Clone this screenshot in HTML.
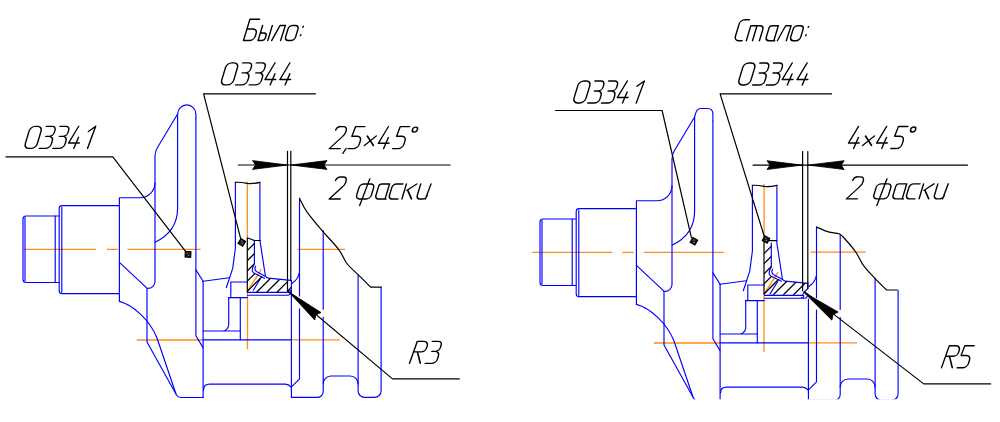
<!DOCTYPE html>
<html><head><meta charset="utf-8"><style>
html,body{margin:0;padding:0;background:#fff;}
body{width:1000px;height:422px;overflow:hidden;}
svg{display:block;}
</style></head><body><svg width="1000" height="422" viewBox="0 0 1000 422"><rect width="1000" height="422" fill="#fff"/><defs><clipPath id="cr"><rect x="0" y="0" width="1000" height="399.2"/></clipPath><clipPath id="hl"><path d="M247.3,237.8 L254.4,240.4 V265 L251.5,272 L265,278 L287.5,280.4 V292.3 H247.3 Z"/></clipPath><clipPath id="hr"><path d="M764,243.1 H771.3 V268 L768.5,275 L782,280.5 L807.8,283.4 V289.1 L802.4,294.7 H764 Z"/></clipPath></defs><g fill="none" stroke="#ff8c1a" stroke-width="1.3"><path d="M23.7,249.4 H96 M107,249.4 H117.8 M127.5,249.4 H200.6 M297.3,249.4 H345"/><path d="M247.3,181.5 V237.8 M261.3,269.4 L247.5,291.2 V349.3"/><path d="M136.7,340 H203.1 M291.3,339.9 H339.8"/><path d="M532.3,252.3 H612.3 M622.3,252.3 H633.6 M644.1,252.3 H723.7 M810.7,252.2 H865.9"/><path d="M764.1,183.7 V240 M778.2,272.2 L764,294.1 V352.3"/><path d="M653.7,343 H720.1 M808.3,342.8 H856.9"/></g><g id="L" fill="none" stroke="#0000ff" stroke-width="1.15" stroke-linejoin="round" stroke-linecap="round"><path d="M59.2,216 H26 Q23,216 23,219 V279.5 Q23,282.5 26,282.5 H59.2"/><path d="M25,217.5 V281"/><path d="M55.2,216 V282.5"/><path d="M119.4,205.6 H62 Q59.2,205.6 59.2,208.5 V290.7 Q59.2,293.6 62,293.6 H119.4"/><path d="M61.8,207 V292.2"/><path d="M119.4,301.4 V197.7 H140 A15,15 0 0 0 155,182.7"/><path d="M119.4,262.4 L147.2,288.4"/><path d="M177.6,114 L157.6,147.3 Q155,151.5 155,156 V281.5 A7,7 0 0 1 148,288.4"/><path d="M147,288.4 V342 L176.5,395 Q178,397.5 181,397.5 H203.4"/><path d="M119.4,301.4 C133,305 150,320 157,338 L176,394"/><path d="M177.6,118 V207.9 C177.6,226 168,236 155,242.2"/><path d="M195.9,118 V335.8 L203.1,347.6"/><path d="M195.9,269.9 L203.1,281.3 L229.1,277.7"/><path d="M203.1,281.3 V397.5"/><path d="M235.4,182.3 V248 L232.7,268.4 L226.3,287.7"/><path d="M259.9,182.3 V240.4 L265.4,276 Q266.3,277.9 268.5,278.1 L290.8,280.4"/><path d="M230.8,297.6 V282 H247.3"/><path d="M228.4,297.6 H247.3"/><path d="M228.7,297.6 V325 A6.5,6.5 0 0 1 222,331 M203.1,331 H240.3"/><path d="M240.3,297.6 V339.8"/><path d="M203.1,339.8 H291.3"/><path d="M247.5,292.3 H286.5"/><path d="M247.5,295.2 H288.3 Q290,295 290.3,293.2"/><path d="M203.6,390 Q203.6,384.1 209.5,384.1 H285.3 Q288.5,384.1 291.3,387.2"/><path d="M291.4,296 V397.4 H317 A6,6 0 0 0 323.2,391.4 V231.5"/><path d="M299.5,224 V378.9 L291.3,387.2"/><path d="M299.3,272.8 Q298,279.5 291.8,283.4"/><path d="M323.2,384 A8,8 0 0 1 331,376 H350.3 A8,8 0 0 1 358.1,384"/><path d="M358.1,275.3 V391 A6.5,6.5 0 0 0 364.6,397.4 H374.6 A6.5,6.5 0 0 0 381.1,391 V287.2"/></g><g clip-path="url(#cr)"><use href="#L" transform="translate(517,3)"/></g><g fill="none" stroke="#0000ff" stroke-width="1.15" stroke-linejoin="round" stroke-linecap="round"><path d="M177.6,118 V114 A9.15,9.15 0 0 1 195.9,114 V118"/><path d="M299.5,198.3 V224 M323.2,230.5 V231.5"/><path d="M254.4,240.4 V264 Q250.5,270.5 253.5,272.8 L264.5,278.2 M255.6,266.3 Q254,270 256.5,271.5 L265.6,276.4"/><path d="M253.3,290.2 L260.2,279"/><path d="M291.4,280.4 V296 M289.3,289.8 a1.4,1.4 0 1 0 0.01,0"/><path d="M694.6,121 V117 L695.7,113.2 Q697.2,108.5 701,108.5 H707.5 Q712.9,108.5 712.9,114 V121"/><path d="M771.3,243.1 V267 Q767.4,273.5 770.4,275.8 L781.4,281.2 M772.5,269.3 Q770.9,273 773.4,274.5 L782.5,279.4"/><path d="M769.9,294.1 L777.6,281.7"/><path d="M807.8,282.4 V288.3 L803.2,293.3"/><path d="M801.5,297.6 A1.5,1.5 0 0 0 802.8,294.7"/></g><g fill="none" stroke="#000" stroke-width="1.2" stroke-linejoin="round" stroke-linecap="round"><path d="M6,156.9 H112.8 L185.2,250.8"/><path d="M315.5,93.8 H203.6 L240.6,238.4"/><path d="M238.3,165 H450.2"/><path d="M287.5,151.3 V292 M290.8,151.3 V280.4 M291,287.4 L287.7,291.4"/><path d="M459.3,378.9 H392.5 L288.3,291.3"/><path d="M299.5,198.3 C300.68,200.47 303.05,206.17 306.6,211.3 C310.15,216.43 315.47,222.77 320.8,229.1 C326.13,235.43 334.25,243.57 338.6,249.3 C342.95,255.03 343.53,259.17 346.9,263.5 C350.27,267.83 354.85,271.35 358.8,275.3 C362.75,279.25 368.63,285.22 370.6,287.2 L381.3,287.2"/><path d="M235.4,182.3 Q241,182 247,183.4 Q253,184 259.9,182.3"/><path d="M247.3,292.2 V237.8 L254.4,240.5 H260.3"/><path d="M555.5,110.5 H662.1 L691.4,237.6"/><path d="M831.5,93.9 H720.1 L764.4,236.8"/><path d="M753,165.1 H967.5"/><path d="M802.6,151.6 V290.7 M807.8,151.6 V289"/><path d="M990.6,383.9 H923.7 L804.2,291.4"/><path d="M816.6,227.1 C818.57,227.90 824.65,230.78 828.4,231.9 C832.15,233.02 836.33,232.62 839.1,233.8 C841.87,234.98 842.23,235.97 845,239 C847.77,242.03 852.53,247.47 855.7,252 C858.87,256.53 860.83,261.85 864,266.2 C867.17,270.55 870.95,274.13 874.7,278.1 C878.45,282.07 884.53,288.02 886.5,290 L897.2,290"/><path d="M752.4,185.3 Q758,185 764,186.4 Q770,187 776.9,185.3"/><path d="M764,294.1 V240.7 H776.7"/></g><path clip-path="url(#hl)" d="M197.80,300.00 L267.80,230.00 M208.00,300.00 L278.00,230.00 M218.20,300.00 L288.20,230.00 M228.40,300.00 L298.40,230.00 M238.60,300.00 L308.60,230.00 M248.80,300.00 L318.80,230.00 M259.00,300.00 L329.00,230.00 M269.20,300.00 L339.20,230.00 M279.40,300.00 L349.40,230.00" fill="none" stroke="#000" stroke-width="1.3"/><path clip-path="url(#hr)" d="M717.60,300.00 L787.60,230.00 M727.70,300.00 L797.70,230.00 M737.80,300.00 L807.80,230.00 M747.90,300.00 L817.90,230.00 M758.00,300.00 L828.00,230.00 M768.10,300.00 L838.10,230.00 M778.20,300.00 L848.20,230.00 M788.30,300.00 L858.30,230.00 M798.40,300.00 L868.40,230.00" fill="none" stroke="#000" stroke-width="1.3"/><g fill="#fff"><rect x="298" y="296.5" width="3" height="12"/><rect x="321.3" y="309.8" width="3" height="7"/><rect x="815" y="298.2" width="3" height="11.4"/><rect x="838.2" y="309.8" width="3" height="7.2"/></g><path d="M287.50,165.00 L252.50,160.60 L255.50,165.00 L252.50,169.40 Z" fill="#000" stroke="#000" stroke-width="0.8" stroke-linejoin="round"/><path d="M291.00,165.00 L327.00,169.40 L324.00,165.00 L327.00,160.60 Z" fill="#000" stroke="#000" stroke-width="0.8" stroke-linejoin="round"/><path d="M288.40,291.60 L314.75,320.09 L315.98,314.73 L321.05,312.58 Z" fill="#000" stroke="#000" stroke-width="0.8" stroke-linejoin="round"/><path d="M802.00,165.10 L767.00,160.70 L770.00,165.10 L767.00,169.50 Z" fill="#000" stroke="#000" stroke-width="0.8" stroke-linejoin="round"/><path d="M808.20,165.10 L844.20,169.50 L841.20,165.10 L844.20,160.70 Z" fill="#000" stroke="#000" stroke-width="0.8" stroke-linejoin="round"/><path d="M803.80,292.20 L831.92,320.13 L833.03,314.56 L838.12,312.02 Z" fill="#000" stroke="#000" stroke-width="0.8" stroke-linejoin="round"/><g transform="translate(188.0,254.4) rotate(3)"><rect x="-2.8" y="-2.8" width="5.6" height="5.6" fill="#1c1c1c" stroke="#000" stroke-width="1.2"/><path d="M-1.2,-0.6 L-0.2,-1.6 M0.2,1.4 L1.3,0.3" stroke="#aaa" stroke-width="0.8"/></g><g transform="translate(241.8,242.4) rotate(32)"><rect x="-2.7" y="-2.7" width="5.4" height="5.4" fill="#1c1c1c" stroke="#000" stroke-width="1.2"/><path d="M-1.2,-0.6 L-0.2,-1.6 M0.2,1.4 L1.3,0.3" stroke="#aaa" stroke-width="0.8"/></g><g transform="translate(693.9,241.3) rotate(30)"><rect x="-2.7" y="-2.7" width="5.4" height="5.4" fill="#1c1c1c" stroke="#000" stroke-width="1.2"/><path d="M-1.2,-0.6 L-0.2,-1.6 M0.2,1.4 L1.3,0.3" stroke="#aaa" stroke-width="0.8"/></g><g transform="translate(766.0,239.5) rotate(28)"><rect x="-2.7" y="-2.7" width="5.4" height="5.4" fill="#1c1c1c" stroke="#000" stroke-width="1.2"/><path d="M-1.2,-0.6 L-0.2,-1.6 M0.2,1.4 L1.3,0.3" stroke="#aaa" stroke-width="0.8"/></g><g fill="none" stroke="#000" stroke-width="1.45" stroke-linecap="round" stroke-linejoin="round"><path transform="translate(23.90,148.35) skewX(-16.70)" d="M4.7,-22 H7.3 A4.7,4.7 0 0 1 12,-17.3 V-4.7 A4.7,4.7 0 0 1 7.3,0 H4.7 A4.7,4.7 0 0 1 0,-4.7 V-17.3 A4.7,4.7 0 0 1 4.7,-22 Z"/><path transform="translate(39.10,148.35) skewX(-16.70)" d="M0.5,-22 H6.5 A4,4 0 0 1 10.5,-18 V-16 A4,4 0 0 1 6.5,-12 H3 M6.5,-12 A4.5,4.5 0 0 1 11,-7.5 V-4.5 A4.5,4.5 0 0 1 6.5,0 H0"/><path transform="translate(52.80,148.35) skewX(-16.70)" d="M0.5,-22 H6.5 A4,4 0 0 1 10.5,-18 V-16 A4,4 0 0 1 6.5,-12 H3 M6.5,-12 A4.5,4.5 0 0 1 11,-7.5 V-4.5 A4.5,4.5 0 0 1 6.5,0 H0"/><path transform="translate(67.00,148.35) skewX(-16.70)" d="M5,-22 L0,-5.4 H10.7 M8.2,-11 L6.8,0"/><path transform="translate(87.55,148.35) skewX(-16.70)" d="M-4.2,-16.8 L1.5,-22 L0,0"/></g><g fill="none" stroke="#000" stroke-width="1.45" stroke-linecap="round" stroke-linejoin="round"><path transform="translate(220.30,84.85) skewX(-16.70)" d="M4.7,-22 H7.3 A4.7,4.7 0 0 1 12,-17.3 V-4.7 A4.7,4.7 0 0 1 7.3,0 H4.7 A4.7,4.7 0 0 1 0,-4.7 V-17.3 A4.7,4.7 0 0 1 4.7,-22 Z"/><path transform="translate(235.50,84.85) skewX(-16.70)" d="M0.5,-22 H6.5 A4,4 0 0 1 10.5,-18 V-16 A4,4 0 0 1 6.5,-12 H3 M6.5,-12 A4.5,4.5 0 0 1 11,-7.5 V-4.5 A4.5,4.5 0 0 1 6.5,0 H0"/><path transform="translate(249.20,84.85) skewX(-16.70)" d="M0.5,-22 H6.5 A4,4 0 0 1 10.5,-18 V-16 A4,4 0 0 1 6.5,-12 H3 M6.5,-12 A4.5,4.5 0 0 1 11,-7.5 V-4.5 A4.5,4.5 0 0 1 6.5,0 H0"/><path transform="translate(263.40,84.85) skewX(-16.70)" d="M5,-22 L0,-5.4 H10.7 M8.2,-11 L6.8,0"/><path transform="translate(278.30,84.85) skewX(-16.70)" d="M5,-22 L0,-5.4 H10.7 M8.2,-11 L6.8,0"/></g><g fill="none" stroke="#000" stroke-width="1.45" stroke-linecap="round" stroke-linejoin="round"><path transform="translate(572.60,102.95) skewX(-16.70)" d="M4.7,-22 H7.3 A4.7,4.7 0 0 1 12,-17.3 V-4.7 A4.7,4.7 0 0 1 7.3,0 H4.7 A4.7,4.7 0 0 1 0,-4.7 V-17.3 A4.7,4.7 0 0 1 4.7,-22 Z"/><path transform="translate(587.80,102.95) skewX(-16.70)" d="M0.5,-22 H6.5 A4,4 0 0 1 10.5,-18 V-16 A4,4 0 0 1 6.5,-12 H3 M6.5,-12 A4.5,4.5 0 0 1 11,-7.5 V-4.5 A4.5,4.5 0 0 1 6.5,0 H0"/><path transform="translate(601.50,102.95) skewX(-16.70)" d="M0.5,-22 H6.5 A4,4 0 0 1 10.5,-18 V-16 A4,4 0 0 1 6.5,-12 H3 M6.5,-12 A4.5,4.5 0 0 1 11,-7.5 V-4.5 A4.5,4.5 0 0 1 6.5,0 H0"/><path transform="translate(615.70,102.95) skewX(-16.70)" d="M5,-22 L0,-5.4 H10.7 M8.2,-11 L6.8,0"/><path transform="translate(636.25,102.95) skewX(-16.70)" d="M-4.2,-16.8 L1.5,-22 L0,0"/></g><g fill="none" stroke="#000" stroke-width="1.45" stroke-linecap="round" stroke-linejoin="round"><path transform="translate(737.50,84.95) skewX(-16.70)" d="M4.7,-22 H7.3 A4.7,4.7 0 0 1 12,-17.3 V-4.7 A4.7,4.7 0 0 1 7.3,0 H4.7 A4.7,4.7 0 0 1 0,-4.7 V-17.3 A4.7,4.7 0 0 1 4.7,-22 Z"/><path transform="translate(752.70,84.95) skewX(-16.70)" d="M0.5,-22 H6.5 A4,4 0 0 1 10.5,-18 V-16 A4,4 0 0 1 6.5,-12 H3 M6.5,-12 A4.5,4.5 0 0 1 11,-7.5 V-4.5 A4.5,4.5 0 0 1 6.5,0 H0"/><path transform="translate(766.40,84.95) skewX(-16.70)" d="M0.5,-22 H6.5 A4,4 0 0 1 10.5,-18 V-16 A4,4 0 0 1 6.5,-12 H3 M6.5,-12 A4.5,4.5 0 0 1 11,-7.5 V-4.5 A4.5,4.5 0 0 1 6.5,0 H0"/><path transform="translate(780.60,84.95) skewX(-16.70)" d="M5,-22 L0,-5.4 H10.7 M8.2,-11 L6.8,0"/><path transform="translate(795.50,84.95) skewX(-16.70)" d="M5,-22 L0,-5.4 H10.7 M8.2,-11 L6.8,0"/></g><g fill="none" stroke="#000" stroke-width="1.45" stroke-linecap="round" stroke-linejoin="round"><path transform="translate(329.30,148.60) skewX(-16.70)" d="M0.8,-18.5 A4,4 0 0 1 4.8,-22 H7.5 A4,4 0 0 1 11.5,-18 V-16.5 Q11.5,-14 9.5,-12 L0,0 H11"/><path transform="translate(346.00,148.60) skewX(-16.70)" d="M0,-0.2 L-1.7,4.7"/><path transform="translate(348.00,148.60) skewX(-16.70)" d="M10.4,-22 H1 L0.2,-12.3 H5.5 A4.5,4.5 0 0 1 10,-7.8 V-4.5 A4.5,4.5 0 0 1 5.5,0 H0"/><path transform="translate(363.50,148.60) skewX(-16.70)" d="M0,-3 L9,-12.5 M0,-12.5 L9,-3"/><path transform="translate(376.80,148.60) skewX(-16.70)" d="M5,-22 L0,-5.4 H10.7 M8.2,-11 L6.8,0"/><path transform="translate(392.65,148.60) skewX(-16.70)" d="M10.4,-22 H1 L0.2,-12.3 H5.5 A4.5,4.5 0 0 1 10,-7.8 V-4.5 A4.5,4.5 0 0 1 5.5,0 H0"/><path transform="translate(409.25,148.60) skewX(-16.70)" d="M2.5,-19 A2.5,2.5 0 1 0 -2.5,-19 A2.5,2.5 0 1 0 2.5,-19 Z"/></g><g fill="none" stroke="#000" stroke-width="1.45" stroke-linecap="round" stroke-linejoin="round"><path transform="translate(846.90,148.45) skewX(-16.70)" d="M5,-22 L0,-5.4 H10.7 M8.2,-11 L6.8,0"/><path transform="translate(861.70,148.45) skewX(-16.70)" d="M0,-3 L9,-12.5 M0,-12.5 L9,-3"/><path transform="translate(875.00,148.45) skewX(-16.70)" d="M5,-22 L0,-5.4 H10.7 M8.2,-11 L6.8,0"/><path transform="translate(890.85,148.45) skewX(-16.70)" d="M10.4,-22 H1 L0.2,-12.3 H5.5 A4.5,4.5 0 0 1 10,-7.8 V-4.5 A4.5,4.5 0 0 1 5.5,0 H0"/><path transform="translate(907.45,148.45) skewX(-16.70)" d="M2.5,-19 A2.5,2.5 0 1 0 -2.5,-19 A2.5,2.5 0 1 0 2.5,-19 Z"/></g><g fill="none" stroke="#000" stroke-width="1.45" stroke-linecap="round" stroke-linejoin="round"><path transform="translate(329.20,198.95) skewX(-16.70)" d="M0.8,-18.5 A4,4 0 0 1 4.8,-22 H7.5 A4,4 0 0 1 11.5,-18 V-16.5 Q11.5,-14 9.5,-12 L0,0 H11"/><path transform="translate(355.55,198.95) skewX(-16.70)" d="M8.2,-20 L6.1,6.6 M4,-15 H10.7 A4,4 0 0 1 14.7,-11 V-4 A4,4 0 0 1 10.7,0 H4 A4,4 0 0 1 0,-4 V-11 A4,4 0 0 1 4,-15 Z"/><path transform="translate(374.85,198.95) skewX(-16.70)" d="M10.2,-15 H2.5 A2.5,2.5 0 0 0 0,-12.5 V-3.5 A3.5,3.5 0 0 0 3.5,0 H10.2 M10.2,-15 V0 L11.2,0.2"/><path transform="translate(388.35,198.95) skewX(-16.70)" d="M10,-15 H3.5 A3.5,3.5 0 0 0 0,-11.5 V-3.5 A3.5,3.5 0 0 0 3.5,0 H9.5"/><path transform="translate(401.90,198.95) skewX(-16.70)" d="M0,0 V-15 M10.4,-15 L2.4,-8.6 M3,-9 L9.6,0"/><path transform="translate(416.20,198.95) skewX(-16.70)" d="M0,-15 V-3.5 A3.5,3.5 0 0 0 3.5,0 H6.5 A3.5,3.5 0 0 0 10,-3.5 M10.3,-15 L9.2,0"/></g><g fill="none" stroke="#000" stroke-width="1.45" stroke-linecap="round" stroke-linejoin="round"><path transform="translate(846.40,198.85) skewX(-16.70)" d="M0.8,-18.5 A4,4 0 0 1 4.8,-22 H7.5 A4,4 0 0 1 11.5,-18 V-16.5 Q11.5,-14 9.5,-12 L0,0 H11"/><path transform="translate(872.75,198.85) skewX(-16.70)" d="M8.2,-20 L6.1,6.6 M4,-15 H10.7 A4,4 0 0 1 14.7,-11 V-4 A4,4 0 0 1 10.7,0 H4 A4,4 0 0 1 0,-4 V-11 A4,4 0 0 1 4,-15 Z"/><path transform="translate(892.05,198.85) skewX(-16.70)" d="M10.2,-15 H2.5 A2.5,2.5 0 0 0 0,-12.5 V-3.5 A3.5,3.5 0 0 0 3.5,0 H10.2 M10.2,-15 V0 L11.2,0.2"/><path transform="translate(905.55,198.85) skewX(-16.70)" d="M10,-15 H3.5 A3.5,3.5 0 0 0 0,-11.5 V-3.5 A3.5,3.5 0 0 0 3.5,0 H9.5"/><path transform="translate(919.10,198.85) skewX(-16.70)" d="M0,0 V-15 M10.4,-15 L2.4,-8.6 M3,-9 L9.6,0"/><path transform="translate(933.40,198.85) skewX(-16.70)" d="M0,-15 V-3.5 A3.5,3.5 0 0 0 3.5,0 H6.5 A3.5,3.5 0 0 0 10,-3.5 M10.3,-15 L9.2,0"/></g><g fill="none" stroke="#000" stroke-width="1.45" stroke-linecap="round" stroke-linejoin="round"><path transform="translate(409.50,363.35) skewX(-16.70)" d="M0,0 L1.2,-22 H8 A4.5,4.5 0 0 1 12.5,-17.5 V-15.5 A4,4 0 0 1 8.5,-11.5 H0.6 M4.5,-11.5 L10.8,0"/><path transform="translate(425.20,363.35) skewX(-16.70)" d="M0.5,-22 H6.5 A4,4 0 0 1 10.5,-18 V-16 A4,4 0 0 1 6.5,-12 H3 M6.5,-12 A4.5,4.5 0 0 1 11,-7.5 V-4.5 A4.5,4.5 0 0 1 6.5,0 H0"/></g><g fill="none" stroke="#000" stroke-width="1.45" stroke-linecap="round" stroke-linejoin="round"><path transform="translate(941.50,367.75) skewX(-16.70)" d="M0,0 L1.2,-22 H8 A4.5,4.5 0 0 1 12.5,-17.5 V-15.5 A4,4 0 0 1 8.5,-11.5 H0.6 M4.5,-11.5 L10.8,0"/><path transform="translate(957.20,367.75) skewX(-16.70)" d="M10.4,-22 H1 L0.2,-12.3 H5.5 A4.5,4.5 0 0 1 10,-7.8 V-4.5 A4.5,4.5 0 0 1 5.5,0 H0"/></g><g fill="none" stroke="#000" stroke-width="1.45" stroke-linecap="round" stroke-linejoin="round"><path transform="translate(243.50,40.55) skewX(-16.70)" d="M9.7,-21.3 H0 V0 H6 A4.5,4.5 0 0 0 10.5,-4.5 V-7 A4.5,4.5 0 0 0 6,-11.5 H0"/><path transform="translate(258.10,40.55) skewX(-16.70)" d="M0,-15 V0 H3.5 A3,3 0 0 0 6.5,-3 V-4.5 A3,3 0 0 0 3.5,-7.5 H0 M9.7,-15 V0"/><path transform="translate(271.70,40.55) skewX(-16.70)" d="M0,0 L3.8,-15 H9.2 L8.9,0"/><path transform="translate(284.55,40.55) skewX(-16.70)" d="M3.5,-15 H6.5 A3.5,3.5 0 0 1 10,-11.5 V-3.5 A3.5,3.5 0 0 1 6.5,0 H3.5 A3.5,3.5 0 0 1 0,-3.5 V-11.5 A3.5,3.5 0 0 1 3.5,-15 Z"/><path transform="translate(299.00,40.55) skewX(-16.70)" d="M0.1,-14.2 L-0.1,-13.3 M0.1,-5.9 L-0.1,-5"/></g><g fill="none" stroke="#000" stroke-width="1.45" stroke-linecap="round" stroke-linejoin="round"><path transform="translate(734.10,40.65) skewX(-16.70)" d="M9,-21 H4.5 A4.5,4.5 0 0 0 0,-16.5 V-4.5 A4.5,4.5 0 0 0 4.5,0 H8"/><path transform="translate(746.30,40.65) skewX(-16.70)" d="M0,0 V-15 H9.6 A3.5,3.5 0 0 1 13.1,-11.5 V0 M6.2,-15 V0"/><path transform="translate(765.20,40.65) skewX(-16.70)" d="M8.6,-15 H2.5 A2.5,2.5 0 0 0 0,-12.5 V-3.5 A3.5,3.5 0 0 0 3.5,0 H8.6 M8.6,-15 V0 L9.6,0.2"/><path transform="translate(777.40,40.65) skewX(-16.70)" d="M0,0 L3.8,-15 H9.2 L8.9,0"/><path transform="translate(789.65,40.65) skewX(-16.70)" d="M3.5,-15 H6.5 A3.5,3.5 0 0 1 10,-11.5 V-3.5 A3.5,3.5 0 0 1 6.5,0 H3.5 A3.5,3.5 0 0 1 0,-3.5 V-11.5 A3.5,3.5 0 0 1 3.5,-15 Z"/><path transform="translate(804.30,40.65) skewX(-16.70)" d="M0.1,-14.2 L-0.1,-13.3 M0.1,-5.9 L-0.1,-5"/></g></svg></body></html>
